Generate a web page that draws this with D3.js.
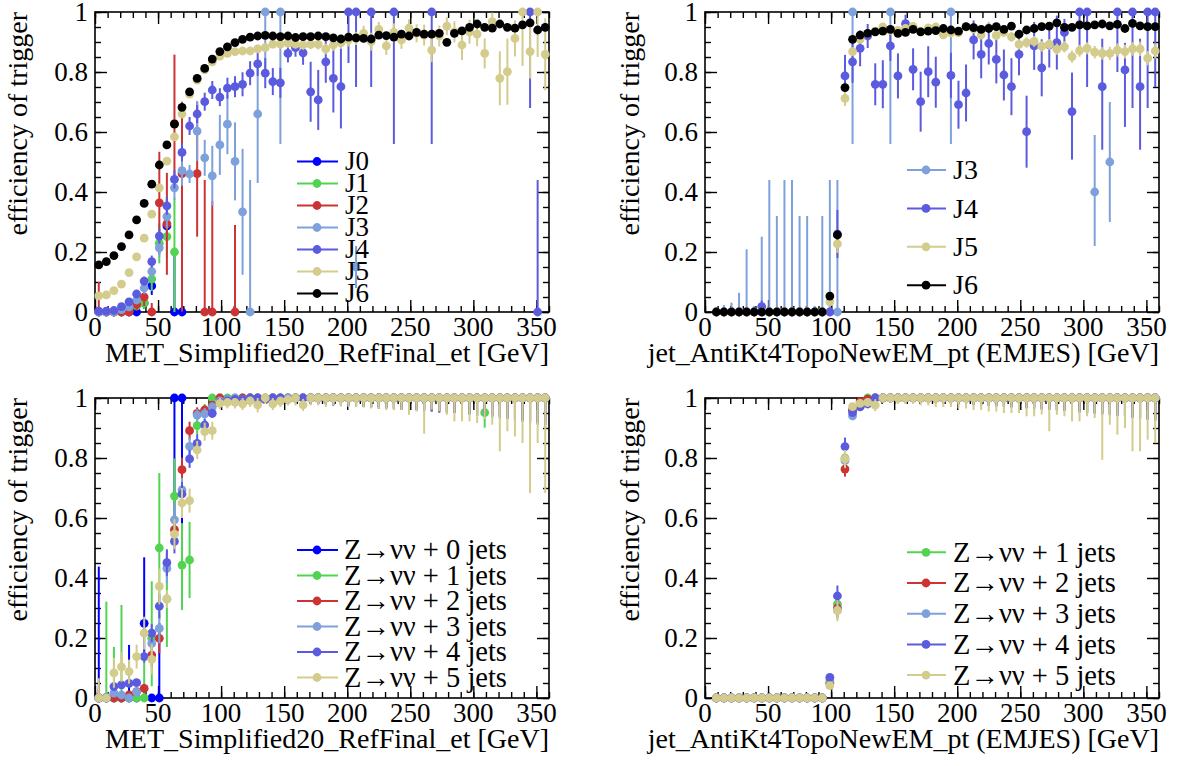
<!DOCTYPE html>
<html><head><meta charset="utf-8">
<script src="https://cdn.jsdelivr.net/npm/d3@7"></script>
</head><body style="margin:0">
<svg id="c" width="1179" height="766"></svg>
<script>
const _ = null;
const FONT = '"Liberation Serif"';
// ---------- shared categories / ticks ----------
const binCenters = [3,9,15,21,27,33,39,45,51,57, 63,69,75,81,87,93,99,105,111,117,
 123,129,135,141,147,153,159,165,171,177, 183,189,195,201,207,213,219,225,231,237,
 243,249,255,261,267,273,279,285,291,297, 303,309,315,321,327,333,339,345,351,357];
const xMajorTicks = [0,50,100,150,200,250,300,350];
const xTickLabels = ["0","50","100","150","200","250","300","350"];
const yMajorTicks = [0,0.2,0.4,0.6,0.8,1];
const yTickLabels = ["0","0.2","0.4","0.6","0.8","1"];
const metTitle = "MET_Simplified20_RefFinal_et [GeV]";
const jetTitle = "jet_AntiKt4TopoNewEM_pt (EMJES) [GeV]";
const yTitle = "efficiency of trigger";
const jNames = ["J0","J1","J2","J3","J4","J5","J6"];
const zNames = ["Z\u2192\u03bd\u03bd + 0 jets","Z\u2192\u03bd\u03bd + 1 jets","Z\u2192\u03bd\u03bd + 2 jets","Z\u2192\u03bd\u03bd + 3 jets","Z\u2192\u03bd\u03bd + 4 jets","Z\u2192\u03bd\u03bd + 5 jets"];
const colors = ["#0000ff","#52d452","#cc3434","#7ea1dc","#5b5bdf","#d4cc8c","#000000"];

// ---------- top-left: MET, J0..J6 ----------
const metJ0 = [0,0,0,0,0, 0,0.03,0.087,_,0.287, 0,0,_,_,_, _,_,_,_,_,
 _,_,_,_,_, _,_,_,_,_, _,_,_,_,_, _,_,_,_,_, _,_,_,_,_, _,_,_,_,_, _,_,_,_,_, _,_,_,_,_];
const metJ0Err = [0,0,0,0,0, 0,0.02,0.03,_,0.03, [0,0.2],[0,0.55],_,_,_, _,_,_,_,_,
 _,_,_,_,_, _,_,_,_,_, _,_,_,_,_, _,_,_,_,_, _,_,_,_,_, _,_,_,_,_, _,_,_,_,_, _,_,_,_,_];
const metJ1 = [0,0,0,0,0.005, 0.02,0.03,0.11,0.229,0.251, 0.2,_,_,_,_, _,_,_,_,_,
 _,_,_,_,_, _,_,_,_,_, _,_,_,_,_, _,_,_,_,_, _,_,_,_,_, _,_,_,_,_, _,_,_,_,_, _,_,_,_,_];
const metJ1Err = [0,0,0,0,0, 0.01,0.02,0.04,0.067,[0.07,0.13], [0.2,0.18],_,_,_,_, _,_,_,_,_,
 _,_,_,_,_, _,_,_,_,_, _,_,_,_,_, _,_,_,_,_, _,_,_,_,_, _,_,_,_,_, _,_,_,_,_, _,_,_,_,_];
const metJ2 = [0,0,0,0,0, 0.025,0.05,0,0.364,0.294, 0.628,0.461,_,0.461,0, 0,_,_,0,_,
 _,_,_,_,_, _,_,_,_,_, _,_,_,_,_, _,_,_,_,_, _,_,_,_,_, _,_,_,_,_, _,_,_,_,_, _,_,_,_,_];
const metJ2Err = [[0,0.1],0,0,0,0, 0.02,0.03,[0,0.03],0.17,0.17, [0.2,0.23],[0.46,0.24],_,[0.21,0.24],[0,0.44], [0,0.37],_,_,[0,0.29],_,
 _,_,_,_,_, _,_,_,_,_, _,_,_,_,_, _,_,_,_,_, _,_,_,_,_, _,_,_,_,_, _,_,_,_,_, _,_,_,_,_];
const metJ3 = [0,0,0,0.008,0.017, 0.04,0.08,0.135,0.214,0.318, 0.414,0.471,0.46,0.603,0.514, 0.454,0.557,0.626,0.502,0.334,
 0,0.66,1,_,1, _,_,_,_,_, _,_,_,_,0.15, _,_,_,_,_, _,_,_,_,_, _,_,_,_,_, _,_,_,_,_, _,_,_,_,_];
const metJ3Err = [0,0,0,0.005,0.01, 0.01,0.02,0.03,0.03,0.04, 0.04,0.05,0.03,0.1,0.06, 0.1,0.1,0.1,0.13,0.21,
 [0,0.44],[0.23,0.17],[0.2,0],_,[0.44,0], _,_,_,_,_, _,_,_,_,0.07, _,_,_,_,_, _,_,_,_,_, _,_,_,_,_, _,_,_,_,_, _,_,_,_,_];
const metJ4 = [0.003,0.003,0.005,0.018,0.034, 0.06,0.103,0.168,0.253,0.354, 0.442,0.532,0.62,0.66,0.701, 0.74,0.716,0.746,0.751,0.759,
 0.796,0.827,0.796,0.768,0.764, 0.862,0.881,0.864,0.734,0.707, 0.834,0.779,0.751,1,1, _,1,_,_,1,
 _,_,_,_,1, _,_,_,_,_, _,_,_,_,_, _,_,1,0,_];
const metJ4Err = [0,0,0,0.005,0.01, 0.01,0.015,0.02,0.025,0.03, 0.03,0.03,0.03,0.03,0.03, 0.03,0.03,0.035,0.035,0.04,
 0.04,0.04,0.05,0.045,0.05, 0.03,0.03,0.04,0.1,0.1, 0.07,0.114,0.139,[0.17,0],[0.25,0], _,[0.25,0],_,_,[0.44,0],
 _,_,_,_,[0.44,0], _,_,_,_,_, _,_,_,_,_, _,_,[0.32,0],[0,0.44],_];
const metJ5 = [0.054,0.057,0.071,0.093,0.131, 0.184,0.246,0.326,0.414,0.503, 0.584,0.66,0.726,0.773,0.807, 0.834,0.853,0.862,0.868,0.87,
 0.87,0.877,0.881,0.893,0.893, 0.896,0.893,0.89,0.892,0.892, 0.877,0.89,0.897,0.907,0.912, 0.929,0.901,0.942,0.887,0.932,
 0.907,0.946,0.929,0.923,0.873, 0.92,0.953,0.934,0.89,0.934, 0.926,0.862,0.968,0.779,0.801, 0.912,1,0.868,1,0.859];
const metJ5Err = [0.008,0.008,0.008,0.01,0.01, 0.01,0.01,0.01,0.01,0.01, 0.01,0.01,0.01,0.01,0.01, 0.01,0.01,0.012,0.012,0.012,
 0.012,0.014,0.014,0.014,0.015, 0.015,0.015,0.016,0.016,0.017, 0.018,0.02,0.02,0.022,0.022, 0.025,0.03,0.025,0.03,0.03,
 0.03,0.03,0.03,0.035,0.04, 0.035,0.03,0.035,0.05,0.04, 0.04,0.05,0.03,0.09,0.11, 0.06,[0.18,0],0.09,[0.15,0],0.12];
const metJ6 = [0.157,0.168,0.188,0.218,0.257, 0.307,0.362,0.426,0.49,0.557, 0.626,0.682,0.734,0.779,0.812, 0.843,0.868,0.884,0.898,0.909,
 0.916,0.92,0.922,0.92,0.918, 0.92,0.915,0.918,0.918,0.92, 0.918,0.914,0.91,0.916,0.914, 0.912,0.91,0.923,0.921,0.916,
 0.926,0.92,0.932,0.926,0.926, 0.929,0.899,0.929,0.937,0.949, 0.96,0.949,0.946,0.96,0.949, 0.946,0.957,0.964,0.94,0.949];
const metJ6Err = [0.006,0.006,0.006,0.006,0.006, 0.006,0.006,0.006,0.006,0.006, 0.006,0.006,0.006,0.006,0.006, 0.006,0.006,0.006,0.006,0.006,
 0.006,0.006,0.006,0.006,0.006, 0.007,0.007,0.007,0.007,0.007, 0.008,0.008,0.008,0.008,0.008, 0.009,0.009,0.009,0.009,0.009,
 0.01,0.01,0.01,0.01,0.01, 0.011,0.011,0.011,0.011,0.011, 0.012,0.012,0.012,0.012,0.012, 0.013,0.013,0.013,0.013,0.013];

// ---------- top-right: jet pt, J3..J6 ----------
const jetJ3 = [_,0,0,0,0, 0,0,0,0,0, 0,0,0,0,0, 0,0,0,_,1,
 _,_,_,_,1, _,_,_,_,_, _,_,1,_,_, _,_,_,_,_, _,_,_,_,_, _,_,_,_,_, _,0.4,_,0.5,_, _,_,_,_,_];
const jetJ3Err = [_,[0,0.01],[0,0.023],[0,0.031],[0,0.064], [0,0.209],[0,0.02],[0,0.251],[0,0.44],[0,0.32],
 [0,0.44],[0,0.44],[0,0.32],[0,0.32],[0,0.02], [0,0.32],[0,0.44],[0,0.44],_,[0.44,0],
 _,_,_,_,[0.44,0], _,_,_,_,_, _,_,[0.44,0],_,_, _,_,_,_,_, _,_,_,_,_, _,_,_,_,_, _,[0.18,0.19],_,[0.2,0.2],_, _,_,_,_,_];
const jetJ4 = [_,0,0,0,0, 0,0,0.018,0,0, 0,0,0,0,0, 0,0,0.26,0.787,0.834,
 0.879,0.92,0.759,0.759,0.887, 0.787,0.961,0.809,0.701,0.801, 0.766,_,0.789,0.691,0.73, 0.907,0.859,0.895,0.842,0.79,
 0.751,0.859,0.601,0.887,0.814, 0.89,0.898,0.932,0.668,1, 1,_,0.751,_,1, 0.807,1,0.751,1,1];
const jetJ4Err = [_,0,0,0,0, 0,0,0.02,0,0, 0,0,0,0,0, 0,0,0.08,0.07,0.07,
 0.06,0.04,0.07,0.08,0.05, 0.075,0.03,0.07,0.1,0.085, 0.085,_,0.075,0.08,0.095, 0.065,0.08,0.07,0.08,0.085,
 0.095,0.07,0.12,0.08,0.095, 0.075,0.09,0.045,[0.16,0.13],[0.12,0], [0.25,0],_,[0.21,0.16],_,[0.2,0], [0.19,0.09],[0.32,0],[0.21,0.16],[0.32,0],[0.25,0]];
const jetJ5 = [_,0,0,0,0, 0,0,0,0,0, 0,0,0,0,0, 0,0.034,0.227,0.712,0.868,
 0.909,0.929,0.936,0.95,0.939, 0.939,0.945,0.952,0.936,0.947, 0.95,0.924,0.93,0.931,0.95, 0.944,0.924,0.947,0.922,0.933,
 0.917,0.892,0.898,0.902,0.886, 0.892,0.876,0.884,0.851,0.871, 0.879,0.866,0.862,0.862,0.873, 0.868,0.877,0.877,0.846,0.87];
const jetJ5Err = [_,0,0,0,0, 0,0,0,0,0, 0,0,0,0,0, 0,0.01,0.03,0.025,0.015,
 0.012,0.01,0.01,0.01,0.012, 0.012,0.012,0.012,0.012,0.012, 0.013,0.014,0.014,0.014,0.014, 0.015,0.015,0.015,0.016,0.016,
 0.016,0.017,0.017,0.018,0.018, 0.018,0.019,0.019,0.02,0.02, 0.02,0.021,0.021,0.022,0.022, 0.023,0.023,0.024,0.024,0.025];
const jetJ6 = [_,0,0,0,0, 0,0,0,0,0, 0,0,0,0,0, 0,0.053,0.257,0.748,0.909,
 0.923,0.929,0.934,0.936,0.942, 0.929,0.932,0.942,0.934,0.936, 0.938,0.945,0.94,0.936,0.951, 0.948,0.942,0.945,0.951,0.942,
 0.953,0.926,0.94,0.945,0.951, 0.953,0.964,0.949,0.949,0.957, 0.954,0.957,0.96,0.954,0.959, 0.945,0.962,0.954,0.951,0.951];
const jetJ6Err = [_,0,0,0,0, 0,0,0,0,0, 0,0,0,0,0, 0,0.008,0.015,0.01,0.006,
 0.005,0.005,0.005,0.005,0.005, 0.005,0.005,0.005,0.005,0.005, 0.006,0.006,0.006,0.006,0.006, 0.006,0.006,0.006,0.006,0.006,
 0.007,0.007,0.007,0.007,0.007, 0.007,0.007,0.007,0.008,0.008, 0.008,0.008,0.008,0.008,0.008, 0.009,0.009,0.009,0.009,0.009];

// ---------- bottom-left: MET, Z->nunu + 0..5 jets ----------
const zMet0 = [0,0,0,0,0, 0,0.249,0,0,_, 1,1,_,_,_, _,_,_,_,_,
 _,_,_,_,_, _,_,_,_,_, _,_,_,_,_, _,_,_,_,_, _,_,_,_,_, _,_,_,_,_, _,_,_,_,_, _,_,_,_,_];
const zMet0Err = [[0,0.438],0,0,0,[0,0.177], 0,[0.12,0.22],0,[0,0.25],_, [0.45,0],[0.5,0],_,_,_, _,_,_,_,_,
 _,_,_,_,_, _,_,_,_,_, _,_,_,_,_, _,_,_,_,_, _,_,_,_,_, _,_,_,_,_, _,_,_,_,_, _,_,_,_,_];
const zMet1 = [0,0,0,0,0, 0,0,0.199,0.5,0.33, 0.673,0.443,0.46,0.908,0.96, 1,1,1,1,1,
 1,1,1,1,0.99, 1,1,1,1,1, 1,1,1,1,1, 1,1,1,1,1, 1,1,1,1,1, 1,1,1,1,1, 1,0.951,1,1,1, 1,1,1,1,1];
const zMet1Err = [0,[0,0.321],[0,0.17],[0,0.31],0, 0,[0,0.12],[0.16,0.19],[0.24,0.25],[0.16,0.16],
 [0.146,0.126],[0.15,0.14],[0.127,0.127],0.03,0.02, [0.01,0],[0.01,0],[0.01,0],[0.01,0],[0.01,0],
 [0.01,0],[0.01,0],[0.01,0],[0.015,0],0.01, [0.015,0],[0.015,0],[0.02,0],[0.02,0],[0.02,0],
 [0.02,0],[0.02,0],[0.025,0],[0.025,0],[0.03,0], [0.03,0],[0.03,0],[0.03,0],[0.035,0],[0.035,0],
 [0.035,0],[0.04,0],[0.04,0],[0.04,0],[0.045,0], [0.045,0],[0.05,0],[0.05,0],[0.05,0],[0.055,0],
 [0.06,0],[0.05,0.04],[0.06,0],[0.07,0],[0.07,0], [0.08,0],[0.08,0],[0.09,0],[0.09,0],[0.1,0]];
const zMet2 = [0,0,0,0,0.01, 0.021,0.032,0.143,0.199,_, 0.561,0.761,0.891,0.949,0.96, 0.976,1,0.995,0.99,1,
 1,1,0.995,1,1, 1,1,1,1,1, 1,1,1,1,1, 1,1,1,1,1, 1,1,1,1,1, 1,1,1,1,1, 1,1,1,1,1, 1,1,1,1,1];
const zMet2Err = [[0,0.03],0,0,0,0.01, 0.01,0.015,0.04,0.05,_, 0.05,0.04,0.03,0.02,0.015, 0.01,[0.01,0],0.005,0.008,[0.01,0],
 [0.01,0],[0.01,0],0.005,[0.01,0],[0.01,0], [0.015,0],[0.015,0],[0.015,0],[0.02,0],[0.02,0],
 [0.02,0],[0.02,0],[0.02,0],[0.025,0],[0.025,0], [0.025,0],[0.03,0],[0.03,0],[0.03,0],[0.035,0],
 [0.035,0],[0.035,0],[0.04,0],[0.04,0],[0.04,0], [0.045,0],[0.045,0],[0.05,0],[0.05,0],[0.05,0],
 [0.055,0],[0.055,0],[0.06,0],[0.06,0],[0.065,0], [0.07,0],[0.07,0],[0.075,0],[0.08,0],[0.08,0]];
const zMet3 = [0,0.003,0.016,0.01,0, 0.02,_,0.182,0.232,0.432, 0.594,0.694,0.839,0.943,0.947, 0.97,0.99,0.995,1,0.995,
 1,0.99,1,1,1, 1,1,1,1,1, 1,1,1,1,1, 1,1,1,1,1, 1,1,1,1,1, 1,1,1,1,1, 1,1,1,1,1, 1,1,1,1,1];
const zMet3Err = [0,0.005,0.01,0.01,0, 0.015,_,0.04,0.05,0.05, 0.05,0.04,0.03,0.02,0.02, 0.015,0.01,0.005,[0.01,0],0.005,
 [0.01,0],0.01,[0.01,0],[0.01,0],[0.015,0], [0.015,0],[0.015,0],[0.02,0],[0.02,0],[0.02,0],
 [0.02,0],[0.025,0],[0.025,0],[0.025,0],[0.03,0], [0.03,0],[0.03,0],[0.035,0],[0.035,0],[0.035,0],
 [0.04,0],[0.04,0],[0.04,0],[0.045,0],[0.045,0], [0.05,0],[0.05,0],[0.05,0],[0.055,0],[0.055,0],
 [0.06,0],[0.06,0],[0.065,0],[0.065,0],[0.07,0], [0.075,0],[0.08,0],[0.08,0],[0.085,0],[0.09,0]];
const zMet4 = [0,0,0.038,0.044,0.049, 0.051,0.138,0.216,0.306,0.451, 0.522,0.68,0.797,0.849,0.91, 0.949,0.985,0.99,0.995,0.995,
 1,1,0.995,1,1, 0.995,1,1,1,1, 1,1,1,1,1, 1,1,1,1,1, 1,1,1,1,1, 1,1,1,1,1, 1,1,1,1,1, 1,1,1,1,1];
const zMet4Err = [0,0,0.01,0.01,0.01, 0.01,0.02,0.03,0.04,0.045, 0.04,0.04,0.03,0.03,0.02, 0.015,0.01,0.008,0.005,0.005,
 [0.01,0],[0.01,0],0.005,[0.012,0],[0.015,0], 0.01,[0.015,0],[0.02,0],[0.02,0],[0.02,0],
 [0.022,0],[0.025,0],[0.025,0],[0.028,0],[0.03,0], [0.03,0],[0.032,0],[0.035,0],[0.035,0],[0.038,0],
 [0.04,0],[0.04,0],[0.042,0],[0.045,0],[0.045,0], [0.048,0],[0.05,0],[0.05,0],[0.055,0],[0.055,0],
 [0.06,0],[0.06,0],[0.062,0],[0.065,0],[0.07,0], [0.072,0],[0.075,0],[0.08,0],[0.085,0],[0.09,0]];
const zMet5 = [0,0,0.084,0.104,0.088, 0.138,0.216,0.129,0.372,0.33, 0.546,0.65,0.658,0.827,0.888, 0.891,0.982,0.985,0.985,0.98,
 0.99,0.977,1,0.98,0.99, 0.995,1,0.977,1,1, 1,1,1,1,1, 1,1,1,1,1, 1,1,1,1,1, 1,1,1,1,1, 1,1,1,1,1, 1,1,1,1,1];
const zMet5Err = [[0,0.066],0,0.05,0.05,0.04, 0.04,0.055,0.05,0.06,0.03, 0.05,0.05,0.04,0.03,0.03, 0.03,0.02,0.02,0.02,0.02,
 0.02,0.025,[0.02,0],0.02,0.02, [0.02,0],[0.025,0],0.02,[0.025,0],[0.025,0],
 [0.03,0],[0.023,0],[0.028,0],[0.03,0],[0.03,0], [0.032,0],[0.035,0],[0.035,0],[0.04,0],[0.04,0],
 [0.04,0],[0.056,0],[0.045,0],[0.119,0],[0.039,0], [0.044,0],[0.056,0],[0.078,0],[0.078,0],[0.078,0],
 [0.083,0],[0.07,0],[0.089,0],[0.178,0],[0.111,0], [0.128,0],[0.15,0],[0.317,0],[0.15,0],[0.317,0]];

// ---------- bottom-right: jet pt, Z->nunu + 1..5 jets ----------
const zJet1 = [_,0,0,0,0, 0,0,0,0,0, 0,0,0,0,0, 0,0.05,0.313,0.8,0.96,
 0.98,1,1,1,1, 1,1,1,1,1, 1,1,1,1,1, 1,1,1,1,1, 1,1,1,1,1, 1,1,1,1,1, 1,1,1,1,1, 1,1,1,1,1];
const zJet1Err = [_,0,0,0,0, 0,0,0,0,0, 0,0,0,0,0, 0,0.01,0.03,0.03,0.015,
 0.01,[0.005,0],[0.005,0],[0.008,0],[0.01,0], [0.01,0],[0.01,0],[0.012,0],[0.012,0],[0.015,0],
 [0.015,0],[0.015,0],[0.018,0],[0.018,0],[0.02,0], [0.02,0],[0.022,0],[0.022,0],[0.025,0],[0.025,0],
 [0.028,0],[0.028,0],[0.03,0],[0.03,0],[0.033,0], [0.035,0],[0.035,0],[0.038,0],[0.04,0],[0.04,0],
 [0.045,0],[0.045,0],[0.05,0],[0.05,0],[0.055,0], [0.06,0],[0.06,0],[0.065,0],[0.07,0],[0.07,0]];
const zJet2 = [_,0,0,0,0, 0,0,0,0,0, 0,0,0,0,0, 0,0.05,0.3,0.763,0.96,
 0.988,0.996,1,1,1, 1,1,1,1,1, 1,1,1,1,1, 1,1,1,1,1, 1,1,1,1,1, 1,1,1,1,1, 1,1,1,1,1, 1,1,1,1,1];
const zJet2Err = [_,0,0,0,0, 0,0,0,0,0, 0,0,0,0,0, 0,0.01,0.03,0.025,0.012,
 0.008,0.005,[0.006,0],[0.008,0],[0.01,0], [0.01,0],[0.012,0],[0.012,0],[0.014,0],[0.015,0],
 [0.016,0],[0.017,0],[0.018,0],[0.02,0],[0.021,0], [0.022,0],[0.023,0],[0.025,0],[0.026,0],[0.028,0],
 [0.03,0],[0.031,0],[0.033,0],[0.035,0],[0.036,0], [0.038,0],[0.04,0],[0.042,0],[0.044,0],[0.046,0],
 [0.048,0],[0.05,0],[0.052,0],[0.055,0],[0.058,0], [0.06,0],[0.063,0],[0.066,0],[0.07,0],[0.073,0]];
const zJet3 = [_,0,0,0,0, 0,0,0,0,0, 0,0,0,0,0, 0,0.06,0.293,0.791,0.94,
 0.97,0.985,1,1,1, 1,1,1,1,1, 1,1,1,1,1, 1,1,1,1,1, 1,1,1,1,1, 1,1,1,1,1, 1,1,1,1,1, 1,1,1,1,1];
const zJet3Err = [_,0,0,0,0, 0,0,0,0,0, 0,0,0,0,0, 0,0.01,0.03,0.025,0.012,
 0.008,0.006,[0.006,0],[0.008,0],[0.01,0], [0.011,0],[0.012,0],[0.013,0],[0.014,0],[0.015,0],
 [0.016,0],[0.018,0],[0.019,0],[0.02,0],[0.022,0], [0.023,0],[0.024,0],[0.026,0],[0.027,0],[0.029,0],
 [0.031,0],[0.032,0],[0.034,0],[0.036,0],[0.037,0], [0.039,0],[0.041,0],[0.043,0],[0.045,0],[0.047,0],
 [0.05,0],[0.052,0],[0.054,0],[0.057,0],[0.06,0], [0.062,0],[0.065,0],[0.068,0],[0.072,0],[0.075,0]];
const zJet4 = [_,0,0,0,0, 0,0,0,0,0, 0,0,0,0,0, 0,0.069,0.34,0.838,0.951,
 0.971,0.98,1,1,1, 1,1,1,1,1, 1,1,1,1,1, 1,1,1,1,1, 1,1,1,1,1, 1,1,1,1,1, 1,1,1,1,1, 1,1,1,1,1];
const zJet4Err = [_,0,0,0,0, 0,0,0,0,0, 0,0,0,0,0, 0,0.012,0.035,0.03,0.012,
 0.01,0.008,[0.006,0],[0.008,0],[0.01,0], [0.011,0],[0.012,0],[0.013,0],[0.014,0],[0.016,0],
 [0.017,0],[0.018,0],[0.02,0],[0.021,0],[0.022,0], [0.024,0],[0.025,0],[0.027,0],[0.028,0],[0.03,0],
 [0.032,0],[0.033,0],[0.035,0],[0.037,0],[0.039,0], [0.04,0],[0.042,0],[0.044,0],[0.046,0],[0.049,0],
 [0.051,0],[0.053,0],[0.056,0],[0.058,0],[0.061,0], [0.064,0],[0.067,0],[0.07,0],[0.073,0],[0.077,0]];
const zJet5 = [_,0,0,0,0, 0,0,0,0,0, 0,0,0,0,0, 0,0.041,0.291,0.797,0.971,
 0.982,0.985,0.976,1,1, 1,1,1,1,1, 1,1,1,1,1, 1,1,1,1,1, 1,1,1,1,1, 1,1,1,1,1, 1,1,1,1,1, 1,1,1,1,1];
const zJet5Err = [_,0,0,0,0, 0,0,0,0,0, 0,0,0,0,0, 0,0.01,0.035,0.03,0.01,
 0.01,0.01,0.02,[0.015,0],[0.015,0], [0.02,0],[0.02,0],[0.02,0],[0.025,0],[0.025,0],
 [0.03,0],[0.03,0],[0.03,0],[0.035,0],[0.035,0], [0.04,0],[0.04,0],[0.045,0],[0.045,0],[0.05,0],
 [0.05,0],[0.05,0],[0.061,0],[0.061,0],[0.055,0], [0.111,0],[0.056,0],[0.061,0],[0.078,0],[0.078,0],
 [0.061,0],[0.067,0],[0.206,0],[0.089,0],[0.122,0], [0.1,0],[0.178,0],[0.178,0],[0.139,0],[0.15,0]];

// ---------- layout ----------
const panels = [
  {frame:[95,12,549,312], xTitle:metTitle, yTitleX:27,
   series:[[jNames[0],colors[0],metJ0,metJ0Err],[jNames[1],colors[1],metJ1,metJ1Err],[jNames[2],colors[2],metJ2,metJ2Err],
           [jNames[3],colors[3],metJ3,metJ3Err],[jNames[4],colors[4],metJ4,metJ4Err],[jNames[5],colors[5],metJ5,metJ5Err],
           [jNames[6],colors[6],metJ6,metJ6Err]],
   legend:{x0:297,x1:338,mx:317,tx:345,y0:161.5,dy:22,fs:27}},
  {frame:[705,12,1159,312], xTitle:jetTitle, yTitleX:639,
   series:[[jNames[3],colors[3],jetJ3,jetJ3Err],[jNames[4],colors[4],jetJ4,jetJ4Err],[jNames[5],colors[5],jetJ5,jetJ5Err],
           [jNames[6],colors[6],jetJ6,jetJ6Err]],
   legend:{x0:907,x1:946,mx:926,tx:953,y0:170,dy:38.4,fs:28}},
  {frame:[95,398,549,698], xTitle:metTitle, yTitleX:27,
   series:[[zNames[0],colors[0],zMet0,zMet0Err],[zNames[1],colors[1],zMet1,zMet1Err],[zNames[2],colors[2],zMet2,zMet2Err],
           [zNames[3],colors[3],zMet3,zMet3Err],[zNames[4],colors[4],zMet4,zMet4Err],[zNames[5],colors[5],zMet5,zMet5Err]],
   legend:{x0:297,x1:338,mx:317,tx:344,y0:550,dy:25.5,fs:28.5}},
  {frame:[705,398,1159,698], xTitle:jetTitle, yTitleX:639,
   series:[[zNames[1],colors[1],zJet1,zJet1Err],[zNames[2],colors[2],zJet2,zJet2Err],[zNames[3],colors[3],zJet3,zJet3Err],
           [zNames[4],colors[4],zJet4,zJet4Err],[zNames[5],colors[5],zJet5,zJet5Err]],
   legend:{x0:907,x1:946,mx:926,tx:953,y0:552.3,dy:30.7,fs:28.5}}
];

const svg = d3.select('#c');
const R = 4.4, LW = 2;

function addText(parent, x, y, str, fs, anchor, transform) {
  const t = parent.append('text').text(str);
  if (transform) t.attr('transform', transform); else t.attr('x', x).attr('y', y);
  t.style('font-family', FONT).style('font-size', fs + 'px').attr('fill', '#000');
  if (anchor) t.attr('text-anchor', anchor);
  return t;
}
function ticksOnly(s){
  s.select('.domain').remove();
  s.selectAll('.tick text').remove();
  s.selectAll('.tick line').attr('stroke','#000').attr('stroke-width',1.4);
}

panels.forEach(p => {
  const [L,T,Rr,B] = p.frame;
  const x = d3.scaleLinear().domain([0,360]).range([L,Rr]);
  const y = d3.scaleLinear().domain([0,1]).range([B,T]);
  const g = svg.append('g');
  const xMinor = d3.range(0,361,10), yMinor = d3.range(0,1.0001,0.05);

  g.append('g').attr('transform',`translate(0,${B})`).call(d3.axisBottom(x).tickValues(xMinor).tickSize(-6)).call(ticksOnly);
  g.append('g').attr('transform',`translate(0,${B})`).call(d3.axisBottom(x).tickValues(xMajorTicks).tickSize(-12)).call(ticksOnly);
  g.append('g').attr('transform',`translate(0,${T})`).call(d3.axisTop(x).tickValues(xMinor).tickSize(-6)).call(ticksOnly);
  g.append('g').attr('transform',`translate(0,${T})`).call(d3.axisTop(x).tickValues(xMajorTicks).tickSize(-12)).call(ticksOnly);
  g.append('g').attr('transform',`translate(${L},0)`).call(d3.axisLeft(y).tickValues(yMinor).tickSize(-6)).call(ticksOnly);
  g.append('g').attr('transform',`translate(${L},0)`).call(d3.axisLeft(y).tickValues(yMajorTicks).tickSize(-12)).call(ticksOnly);
  g.append('g').attr('transform',`translate(${Rr},0)`).call(d3.axisRight(y).tickValues(yMinor).tickSize(-6)).call(ticksOnly);
  g.append('g').attr('transform',`translate(${Rr},0)`).call(d3.axisRight(y).tickValues(yMajorTicks).tickSize(-12)).call(ticksOnly);

  xMajorTicks.forEach((v,i) => addText(g, x(v), B + 24, xTickLabels[i], 27, 'middle'));
  yMajorTicks.forEach((v,i) => addText(g, L - 7, y(v) + 9, yTickLabels[i], 27, 'end'));

  g.append('rect').attr('x',L).attr('y',T).attr('width',Rr-L).attr('height',B-T)
    .attr('fill','none').attr('stroke','#000').attr('stroke-width',1.6);

  addText(g, Rr, B + 50, p.xTitle, 28, 'end');
  addText(g, 0, 0, yTitle, 28, 'end', `translate(${p.yTitleX},${T}) rotate(-90)`);

  p.series.forEach(([name,col,vals,errs]) => {
    const sg = g.append('g');
    const pts = vals.map((v,i)=>({x:binCenters[i], v, e:errs[i]})).filter(d=>d.v!==null);
    sg.selectAll('line.err').data(pts.filter(d=>{
        const e=d.e; if(e===null) return false; return Array.isArray(e)?(e[0]+e[1]>0):e>0;}))
      .join('line').attr('class','err')
      .attr('x1',d=>x(d.x)).attr('x2',d=>x(d.x))
      .attr('y1',d=>{const lo=Array.isArray(d.e)?d.e[0]:d.e; return y(Math.max(0,d.v-lo));})
      .attr('y2',d=>{const hi=Array.isArray(d.e)?d.e[1]:d.e; return y(Math.min(1,d.v+hi));})
      .attr('stroke',col).attr('stroke-width',LW);
    sg.selectAll('circle').data(pts).join('circle')
      .attr('cx',d=>x(d.x)).attr('cy',d=>y(d.v)).attr('r',R).attr('fill',col);
  });

  const lg = p.legend;
  p.series.forEach(([name,col],i) => {
    const yy = lg.y0 + i*lg.dy;
    g.append('line').attr('x1',lg.x0).attr('x2',lg.x1).attr('y1',yy).attr('y2',yy).attr('stroke',col).attr('stroke-width',LW);
    g.append('circle').attr('cx',lg.mx).attr('cy',yy).attr('r',R).attr('fill',col);
    addText(g, lg.tx, yy + lg.fs*0.33, name, lg.fs, 'start');
  });
});
</script>
</body></html>
